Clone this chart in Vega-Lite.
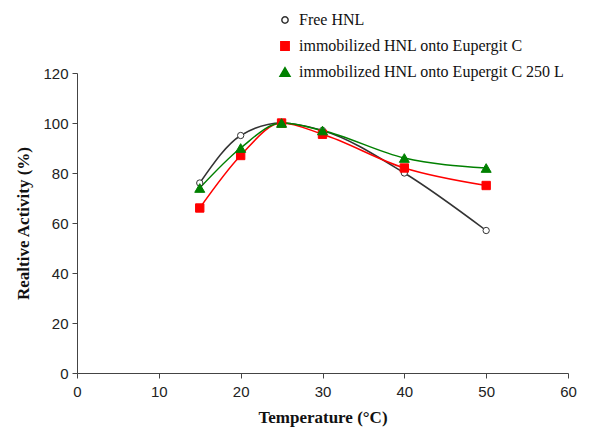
{
  "$schema": "https://vega.github.io/schema/vega-lite/v6.json",
  "autosize": "none",
  "width": 491,
  "height": 300,
  "padding": {"left": 77, "top": 73, "right": 24, "bottom": 64},
  "background": "white",
  "config": {
    "view": {"stroke": null},
    "axis": {
      "grid": false,
      "labelFlush": false,
      "domainColor": "#444",
      "tickColor": "#444",
      "tickSize": 5,
      "labelFont": "Liberation Sans",
      "labelFontSize": 15,
      "labelColor": "#222",
      "titleFont": "Liberation Serif",
      "titleFontSize": 17,
      "titleFontWeight": "bold",
      "titleColor": "#111"
    }
  },
  "data": {
    "values": [
      {"t": 15, "a": 76, "s": "Free HNL"},
      {"t": 20, "a": 95, "s": "Free HNL"},
      {"t": 25, "a": 100, "s": "Free HNL"},
      {"t": 30, "a": 97, "s": "Free HNL"},
      {"t": 40, "a": 80, "s": "Free HNL"},
      {"t": 50, "a": 57, "s": "Free HNL"},
      {"t": 15, "a": 66, "s": "immobilized HNL onto Eupergit C"},
      {"t": 20, "a": 87, "s": "immobilized HNL onto Eupergit C"},
      {"t": 25, "a": 100, "s": "immobilized HNL onto Eupergit C"},
      {"t": 30, "a": 95.5, "s": "immobilized HNL onto Eupergit C"},
      {"t": 40, "a": 82, "s": "immobilized HNL onto Eupergit C"},
      {"t": 50, "a": 75, "s": "immobilized HNL onto Eupergit C"},
      {"t": 15, "a": 74, "s": "immobilized HNL onto Eupergit C 250 L"},
      {"t": 20, "a": 90, "s": "immobilized HNL onto Eupergit C 250 L"},
      {"t": 25, "a": 100, "s": "immobilized HNL onto Eupergit C 250 L"},
      {"t": 30, "a": 97, "s": "immobilized HNL onto Eupergit C 250 L"},
      {"t": 40, "a": 86, "s": "immobilized HNL onto Eupergit C 250 L"},
      {"t": 50, "a": 82, "s": "immobilized HNL onto Eupergit C 250 L"}
    ]
  },
  "encoding": {
    "x": {
      "field": "t", "type": "quantitative",
      "scale": {"domain": [0, 60], "nice": false},
      "axis": {"values": [0, 10, 20, 30, 40, 50, 60], "title": "Temperature (°C)", "titlePadding": 10, "labelPadding": 6}
    },
    "y": {
      "field": "a", "type": "quantitative",
      "scale": {"domain": [0, 120], "nice": false},
      "axis": {"values": [0, 20, 40, 60, 80, 100, 120], "title": "Realtive Activity (%)", "titlePadding": 10, "labelPadding": 4}
    }
  },
  "layer": [
    {
      "mark": {"type": "line", "interpolate": "monotone", "strokeWidth": 1.5},
      "encoding": {
        "stroke": {
          "field": "s", "type": "nominal",
          "scale": {
            "domain": ["Free HNL", "immobilized HNL onto Eupergit C", "immobilized HNL onto Eupergit C 250 L"],
            "range": ["#333333", "#ff0000", "#008000"]
          },
          "legend": {
            "orient": "none", "legendX": 200, "legendY": -65, "title": null, "padding": 0,
            "symbolSize": 80, "symbolStrokeWidth": 1.5,
            "clipHeight": 24, "labelFont": "Liberation Serif", "labelFontSize": 16,
            "labelColor": "#111", "labelOffset": 6, "labelLimit": 400
          }
        }
      }
    },
    {
      "mark": {"type": "point", "strokeWidth": 1, "opacity": 1, "fillOpacity": 1},
      "encoding": {
        "shape": {
          "field": "s", "type": "nominal",
          "scale": {
            "domain": ["Free HNL", "immobilized HNL onto Eupergit C", "immobilized HNL onto Eupergit C 250 L"],
            "range": ["circle", "square", "triangle-up"]
          }
        },
        "fill": {
          "field": "s", "type": "nominal",
          "scale": {
            "domain": ["Free HNL", "immobilized HNL onto Eupergit C", "immobilized HNL onto Eupergit C 250 L"],
            "range": ["#ffffff", "#ff0000", "#008000"]
          }
        },
        "stroke": {"field": "s", "type": "nominal"},
        "size": {
          "field": "s", "type": "nominal",
          "scale": {
            "domain": ["Free HNL", "immobilized HNL onto Eupergit C", "immobilized HNL onto Eupergit C 250 L"],
            "range": [40, 100, 90]
          },
          "legend": null
        }
      }
    }
  ]
}
